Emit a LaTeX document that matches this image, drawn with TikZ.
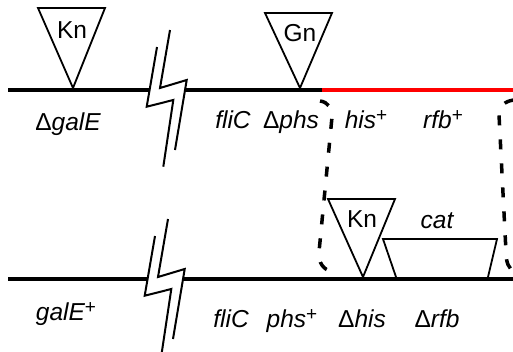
\documentclass[tikz,border=0pt]{standalone}
\usepackage{fontspec}
\setmainfont{Liberation Sans}
\newcommand\plusup{\raisebox{7pt}{\fontsize{19}{19}\selectfont\upshape +}}
\newcommand\dlt{{\upshape Δ}}
\begin{document}
\begin{tikzpicture}[x=1pt,y=-1pt,
  chrom/.style={line width=4pt},
  ins/.style={line width=1.8pt, line join=miter},
  brk/.style={line width=2pt, line join=miter},
  lab/.style={font=\fontsize{24.5}{28}\selectfont\itshape, anchor=base, inner sep=0pt},
  tag/.style={font=\fontsize{24.5}{28}\selectfont, inner sep=0pt},
  dsh/.style={line width=3.5pt, dash pattern=on 10pt off 14pt}]
\useasboundingbox (0,0) rectangle (513,351);
% ---------- top chromosome ----------
\coordinate (t0) at (8,90);
\coordinate (tb1) at (149.6,90);
\coordinate (tb2) at (185,90);
\coordinate (tr) at (322,90);
\coordinate (t1) at (513,90);
\draw[chrom] (t0) -- (tb1);
\draw[chrom] (tb2) -- (tr);
\draw[chrom, red] (tr) -- (t1);
% break symbol top
\begin{scope}
\draw[brk] (157,47) -- (146.7,106.7) -- (173.3,100) -- (163.3,166.7);
\draw[brk] (170,30) -- (160,88) -- (186.7,80) -- (175,150);
\end{scope}
% insertion triangles top
\draw[ins] (38,8) -- (105,8) -- (73,88) -- cycle;
\node[tag] (kn1) at (72,30) {Kn};
\draw[ins] (265,13) -- (332,13) -- (300,88) -- cycle;
\node[tag] (gn1) at (300,33) {Gn};
% labels top
\node[lab] (galE1) at (68,130) {\dlt galE};
\node[lab] (fliC1) at (233,128) {fliC};
\node[lab] (phs1) at (291,128) {\dlt phs};
\node[lab] (his1) at (366,128) {his\plusup};
\node[lab] (rfb1) at (443,128) {rfb\plusup};
% ---------- bottom chromosome ----------
\coordinate (b0) at (8,279);
\coordinate (bb1) at (147.6,279);
\coordinate (bb2) at (183,279);
\coordinate (b1) at (513,279);
\draw[chrom] (b0) -- (bb1);
\draw[chrom] (bb2) -- (b1);
\begin{scope}[shift={(-2,189)}]
\draw[brk] (157,47) -- (146.7,106.7) -- (173.3,100) -- (163.3,166.7);
\draw[brk] (170,30) -- (160,88) -- (186.7,80) -- (175,150);
\end{scope}
% insertion triangle and cat cassette
\draw[ins] (328,199) -- (395,199) -- (363,277) -- cycle;
\node[tag] (kn2) at (362,219) {Kn};
\draw[ins] (396,277) -- (383,239) -- (497,239) -- (488,277);
\node[lab] (cat) at (437,228) {cat};
% labels bottom
\node[lab] (galE2) at (66,320) {galE\plusup};
\node[lab] (fliC2) at (231,327) {fliC};
\node[lab] (phs2) at (292,327) {phs\plusup};
\node[lab] (his2) at (362,327) {\dlt his};
\node[lab] (rfb2) at (437,327) {\dlt rfb};
% ---------- crossover region ----------
\draw[dsh] (320,101) .. controls (328,102) and (332,108) .. (332,117) -- (319,252) .. controls (318,262) and (323,270) .. (333,272);
\draw[dsh] (514,100) .. controls (505,101) and (499,106) .. (499,115) -- (506,252) .. controls (506,263) and (509,269) .. (514,271);
\end{tikzpicture}
\end{document}
